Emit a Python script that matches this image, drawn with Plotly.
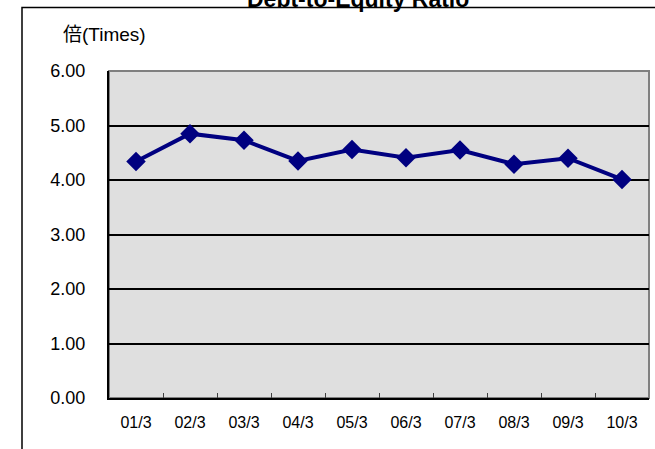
import plotly.graph_objects as go

categories = ["01/3", "02/3", "03/3", "04/3", "05/3", "06/3", "07/3", "08/3", "09/3", "10/3"]
ratio = [4.34, 4.85, 4.73, 4.35, 4.56, 4.41, 4.55, 4.29, 4.40, 4.01]
y_ticks = [0, 1, 2, 3, 4, 5, 6]
y_ticktext = ["0.00", "1.00", "2.00", "3.00", "4.00", "5.00", "6.00"]

W, H = 655, 449
L, R, T, B = 109, 6, 71, 51
pw, ph = W - L - R, H - T - B

def px(x):
    return (x - L) / pw

def py(y):
    return (H - B - y) / ph

fig = go.Figure()
fig.add_trace(go.Scatter(
    x=categories, y=ratio, mode="lines+markers",
    line=dict(color="#000080", width=4),
    marker=dict(symbol="diamond", size=15, color="#000080"),
    showlegend=False, cliponaxis=False,
))

fig.update_layout(
    width=W, height=H,
    margin=dict(l=L, r=R, t=T, b=B),
    paper_bgcolor="white",
    plot_bgcolor="#dfdfdf",
    font=dict(family="Liberation Sans, Arial, sans-serif", color="black"),
    xaxis=dict(
        type="category", range=[-0.5, 9.5],
        showgrid=False, showline=True, linecolor="black", linewidth=2,
        ticks="inside", tickson="boundaries", ticklen=5, tickcolor="#404040", tickwidth=1,
        tickfont=dict(size=16), ticklabelstandoff=9,
        fixedrange=True,
    ),
    yaxis=dict(
        range=[0, 6], tickvals=y_ticks, ticktext=y_ticktext,
        showgrid=True, gridcolor="black", gridwidth=2,
        showline=True, linecolor="black", linewidth=2,
        zeroline=False, ticks="", tickfont=dict(size=18),
        ticklabelstandoff=18, fixedrange=True,
    ),
    shapes=[
        dict(type="rect", xref="paper", yref="paper", x0=0, x1=1, y0=0, y1=1,
             line=dict(color="#808080", width=2), layer="below"),
        dict(type="rect", xref="paper", yref="paper",
             x0=px(22), x1=px(720), y0=py(520), y1=py(7.5),
             line=dict(color="black", width=1.5), fillcolor="rgba(0,0,0,0)", layer="above"),
    ],
    annotations=[
        dict(text="<b>Debt-to-Equity Ratio</b>", xref="paper", yref="paper",
             x=px(357.5), y=py(-1), xanchor="center", yanchor="middle",
             showarrow=False, font=dict(size=23, family="Liberation Sans, Arial, sans-serif")),
        dict(text="<span style='font-family:Noto Sans CJK JP'>倍</span>(Times)",
             xref="paper", yref="paper", x=px(61), y=py(32),
             xanchor="left", yanchor="middle", showarrow=False,
             font=dict(size=19, family="Liberation Sans, Arial, sans-serif")),
    ],
)

fig.write_html(
    "out.html",
    config={"displayModeBar": False},
    post_script="document.body.style.margin='0';document.body.style.overflow='hidden';",
)
